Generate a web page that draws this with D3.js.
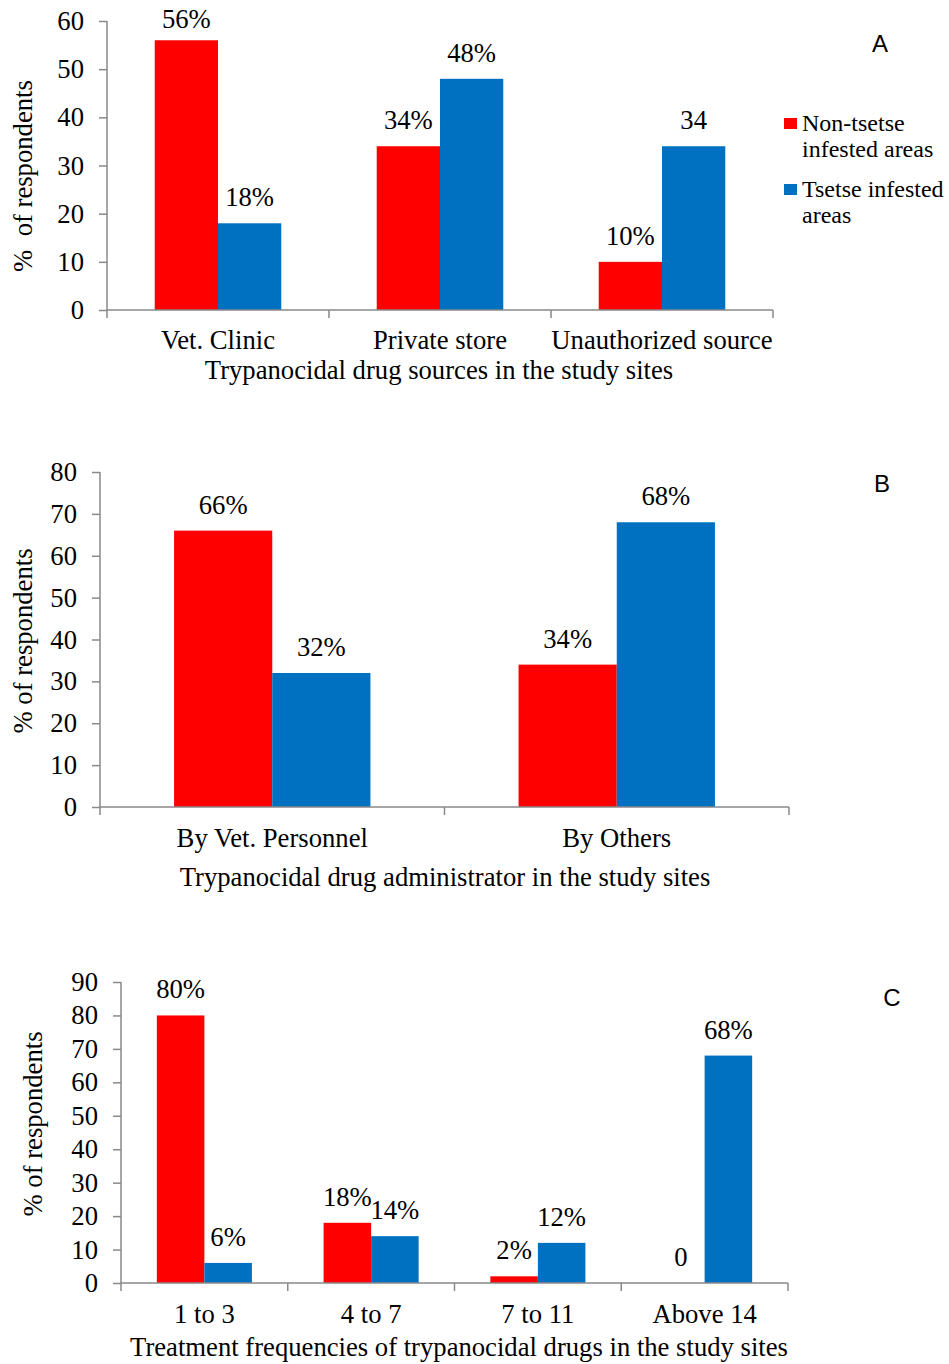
<!DOCTYPE html>
<html>
<head>
<meta charset="utf-8">
<script src="https://cdn.jsdelivr.net/npm/d3@7"></script>
<style>
  html, body { margin: 0; padding: 0; background: #fff; }
  svg { display: block; }
  text { font-family: "Liberation Serif", "Times New Roman", serif; fill: #000; }
  text.letter { font-family: "Liberation Sans", Arial, sans-serif; }
</style>
</head>
<body>
<svg id="chart" width="949" height="1364"></svg>
<script>
// ---------- Data ----------
const seriesNames = ["Non-tsetse infested areas", "Tsetse infested areas"];
const seriesColors = ["#FF0000", "#0070C0"];

// Panel A
const catsA = ["Vet. Clinic", "Private store", "Unauthorized source"];
const nonTsetseA = [56, 34, 10];
const tsetseA = [18, 48, 34];
const labelsNonA = ["56%", "34%", "10%"];
const labelsTsA = ["18%", "48%", "34"];
const ticksA = [0, 10, 20, 30, 40, 50, 60];

// Panel B
const catsB = ["By Vet. Personnel", "By Others"];
const nonTsetseB = [66, 34];
const tsetseB = [32, 68];
const labelsNonB = ["66%", "34%"];
const labelsTsB = ["32%", "68%"];
const ticksB = [0, 10, 20, 30, 40, 50, 60, 70, 80];

// Panel C
const catsC = ["1 to 3", "4 to 7", "7 to 11", "Above 14"];
const nonTsetseC = [80, 18, 2, 0];
const tsetseC = [6, 14, 12, 68];
const labelsNonC = ["80%", "18%", "2%", "0"];
const labelsTsC = ["6%", "14%", "12%", "68%"];
const ticksC = [0, 10, 20, 30, 40, 50, 60, 70, 80, 90];

// ---------- Drawing ----------
const svg = d3.select("#chart");
const AXIS = "#898989";
const FS = 26.67;

function drawPanel(cfg) {
  const g = svg.append("g");
  const x = d3.scaleBand().domain(cfg.cats).range([cfg.x0, cfg.x1]);
  const y = d3.scaleLinear().domain([0, cfg.ymax]).range([cfg.y0, cfg.yTop]);
  const groupFrac = 0.57;
  const pOuter = (2 / groupFrac - 2) / 2;
  const inner = d3.scaleBand().domain([0, 1]).range([0, x.bandwidth()])
    .paddingInner(0).paddingOuter(pOuter);

  const rows = cfg.cats.map((c, i) => ({
    cat: c,
    vals: [cfg.non[i], cfg.ts[i]],
    labs: [cfg.labNon[i], cfg.labTs[i]]
  }));
  const groups = g.selectAll("g.cat").data(rows).join("g")
    .attr("transform", d => `translate(${x(d.cat)},0)`);
  groups.selectAll("rect").data(d => d.vals.map((v, k) => ({v, k}))).join("rect")
    .attr("x", d => inner(d.k))
    .attr("width", inner.bandwidth())
    .attr("y", d => y(d.v))
    .attr("height", d => y(0) - y(d.v))
    .attr("fill", d => seriesColors[d.k]);
  groups.selectAll("text.lab").data(d => d.labs.map((l, k) => ({l, k, v: d.vals[k]}))).join("text")
    .attr("class", "lab")
    .attr("x", d => inner(d.k) + inner.bandwidth() / 2)
    .attr("y", d => Math.max(y(d.v) - 17, cfg.yTop + 7))
    .attr("text-anchor", "middle")
    .attr("font-size", FS)
    .text(d => d.l);

  // y axis
  const ya = g.append("g").attr("transform", `translate(${cfg.x0},0)`)
    .call(d3.axisLeft(y).tickValues(cfg.ticks).tickSize(8).tickPadding(15).tickSizeOuter(0));
  ya.select(".domain").remove();
  ya.selectAll(".tick line").attr("stroke", AXIS).attr("stroke-width", 1.5);
  ya.selectAll(".tick text").attr("font-size", FS).style("font-family", "'Liberation Serif', 'Times New Roman', serif").attr("fill", "#000");
  g.append("line").attr("x1", cfg.x0).attr("x2", cfg.x0)
    .attr("y1", cfg.yTop).attr("y2", cfg.y0 + 8)
    .attr("stroke", AXIS).attr("stroke-width", 1.5);

  // x axis
  g.append("line").attr("x1", cfg.x0).attr("x2", cfg.x1)
    .attr("y1", cfg.y0).attr("y2", cfg.y0)
    .attr("stroke", AXIS).attr("stroke-width", 1.5);
  const bounds = cfg.cats.map(c => x(c)).concat([x(cfg.cats[cfg.cats.length - 1]) + x.bandwidth()]);
  g.selectAll("line.xt").data(bounds.slice(1)).join("line")
    .attr("class", "xt")
    .attr("x1", d => d).attr("x2", d => d)
    .attr("y1", cfg.y0).attr("y2", cfg.y0 + 8)
    .attr("stroke", AXIS).attr("stroke-width", 1.5);
  g.selectAll("text.cat").data(cfg.cats).join("text")
    .attr("class", "cat")
    .attr("x", d => x(d) + x.bandwidth() / 2)
    .attr("y", cfg.catY)
    .attr("text-anchor", "middle")
    .attr("font-size", FS)
    .text(d => d);

  // titles
  g.append("text").attr("x", cfg.titleX).attr("y", cfg.titleY)
    .attr("text-anchor", "middle").attr("font-size", FS).text(cfg.title);
  g.append("text")
    .attr("transform", `translate(${cfg.yTitleX},${cfg.yTitleY}) rotate(-90)`)
    .attr("text-anchor", "middle").attr("font-size", FS)
    .attr("xml:space", "preserve").style("white-space", "pre")
    .text(cfg.yTitle);
  g.append("text").attr("class", "letter").attr("x", cfg.letterX).attr("y", cfg.letterY)
    .attr("text-anchor", "middle").attr("font-size", 24)
    .text(cfg.letter);
}

drawPanel({
  cats: catsA, non: nonTsetseA, ts: tsetseA, labNon: labelsNonA, labTs: labelsTsA,
  ticks: ticksA, ymax: 60,
  x0: 107, x1: 773, y0: 310, yTop: 21, catY: 349,
  title: "Trypanocidal drug sources in the study sites", titleX: 439, titleY: 379,
  yTitle: "%  of respondents", yTitleX: 32, yTitleY: 176,
  letter: "A", letterX: 880, letterY: 52
});

drawPanel({
  cats: catsB, non: nonTsetseB, ts: tsetseB, labNon: labelsNonB, labTs: labelsTsB,
  ticks: ticksB, ymax: 80,
  x0: 100, x1: 789, y0: 807, yTop: 472, catY: 847,
  title: "Trypanocidal drug administrator in the study sites", titleX: 445, titleY: 886,
  yTitle: "% of respondents", yTitleX: 32, yTitleY: 641,
  letter: "B", letterX: 882, letterY: 492
});

drawPanel({
  cats: catsC, non: nonTsetseC, ts: tsetseC, labNon: labelsNonC, labTs: labelsTsC,
  ticks: ticksC, ymax: 90,
  x0: 121, x1: 788, y0: 1283, yTop: 982, catY: 1323,
  title: "Treatment frequencies of trypanocidal drugs in the study sites", titleX: 459, titleY: 1356,
  yTitle: "% of respondents", yTitleX: 42, yTitleY: 1124,
  letter: "C", letterX: 892, letterY: 1006
});

// Legend (panel A)
const leg = svg.append("g").attr("transform", "translate(784,0)");
const legendLines = [["Non-tsetse", "infested areas"], ["Tsetse infested", "areas"]];
const legendBase = [131, 197];
legendLines.forEach((lines, i) => {
  leg.append("rect").attr("x", 0).attr("y", legendBase[i] - 13).attr("width", 13).attr("height", 11)
    .attr("fill", seriesColors[i]);
  lines.forEach((t, j) => {
    leg.append("text").attr("x", 18).attr("y", legendBase[i] + j * 26)
      .attr("font-size", 24).text(t);
  });
});
</script>
</body>
</html>
